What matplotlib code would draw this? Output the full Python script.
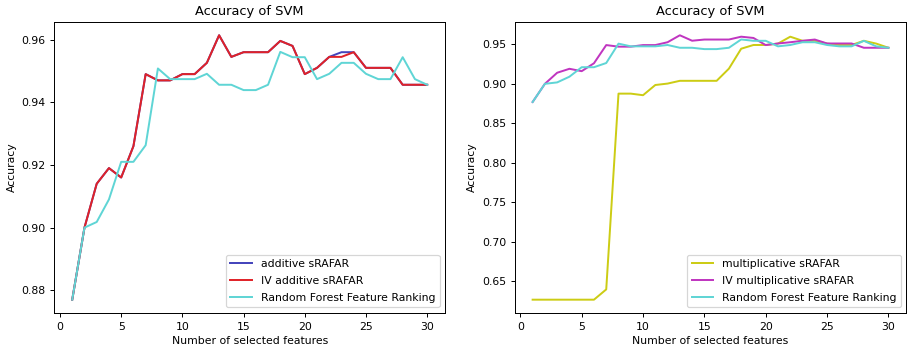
import matplotlib
matplotlib.use("Agg")
import matplotlib.pyplot as plt

# number of selected features
features = list(range(1, 31))

# accuracy curves
additive = [0.877, 0.900, 0.914, 0.919, 0.916, 0.926, 0.949, 0.947, 0.947, 0.949,
            0.949, 0.9526, 0.9614, 0.9545, 0.956, 0.956, 0.956, 0.9596, 0.958, 0.949,
            0.951, 0.9545, 0.956, 0.956, 0.951, 0.951, 0.951, 0.9456, 0.9456, 0.9456]
iv_additive = [0.877, 0.900, 0.914, 0.919, 0.916, 0.926, 0.949, 0.947, 0.947, 0.949,
               0.949, 0.9526, 0.9614, 0.9545, 0.956, 0.956, 0.956, 0.9596, 0.958, 0.949,
               0.951, 0.9545, 0.9545, 0.956, 0.951, 0.951, 0.951, 0.9456, 0.9456, 0.9456]
random_forest = [0.877, 0.900, 0.9018, 0.909, 0.921, 0.921, 0.9263, 0.9508, 0.9474, 0.9474,
                 0.9474, 0.9491, 0.9456, 0.9456, 0.9439, 0.9439, 0.9456, 0.9561, 0.9544, 0.9544,
                 0.9474, 0.9491, 0.9526, 0.9526, 0.9491, 0.9474, 0.9474, 0.9544, 0.9474, 0.9456]
multiplicative = [0.627, 0.627, 0.627, 0.627, 0.627, 0.627, 0.640, 0.8876, 0.8876, 0.8856,
                  0.8985, 0.9003, 0.9038, 0.9038, 0.9038, 0.9038, 0.9192, 0.9444, 0.9491, 0.9491,
                  0.9509, 0.9596, 0.9544, 0.9544, 0.9509, 0.9491, 0.9491, 0.9544, 0.9509, 0.9456]
iv_multiplicative = [0.877, 0.900, 0.914, 0.919, 0.916, 0.926, 0.949, 0.947, 0.947, 0.949,
                     0.949, 0.9526, 0.9614, 0.9545, 0.956, 0.956, 0.956, 0.9596, 0.958, 0.949,
                     0.951, 0.9526, 0.9544, 0.956, 0.951, 0.951, 0.951, 0.9456, 0.9456, 0.9456]

plt.rcParams["font.size"] = 8.8
plt.rcParams["lines.linewidth"] = 1.6
plt.rcParams["legend.labelspacing"] = 0.65

dpi = 88.6
fig = plt.figure(figsize=(908 / dpi, 350 / dpi), dpi=dpi)
ax1 = fig.add_axes([0.060, 0.106, 0.430, 0.831])
ax2 = fig.add_axes([0.567, 0.106, 0.431, 0.831])

# left: additive
ax1.plot(features, additive, color="#4444bb", label="additive sRAFAR")
ax1.plot(features, iv_additive, color="#e02228", label="IV additive sRAFAR")
ax1.plot(features, random_forest, color="#5fd5d5", label="Random Forest Feature Ranking")
ax1.set_title("Accuracy of SVM")
ax1.set_xlabel("Number of selected features")
ax1.set_ylabel("Accuracy")
ax1.set_xticks([0, 5, 10, 15, 20, 25, 30])
ax1.legend(loc="lower right")

# right: multiplicative
ax2.plot(features, multiplicative, color="#cccc14", label="multiplicative sRAFAR")
ax2.plot(features, iv_multiplicative, color="#c035c0", label="IV multiplicative sRAFAR")
ax2.plot(features, random_forest, color="#5fd5d5", label="Random Forest Feature Ranking")
ax2.set_title("Accuracy of SVM")
ax2.set_xlabel("Number of selected features")
ax2.set_ylabel("Accuracy")
ax2.set_xticks([0, 5, 10, 15, 20, 25, 30])
ax2.legend(loc="lower right")

fig.savefig("out.png", dpi=dpi)
